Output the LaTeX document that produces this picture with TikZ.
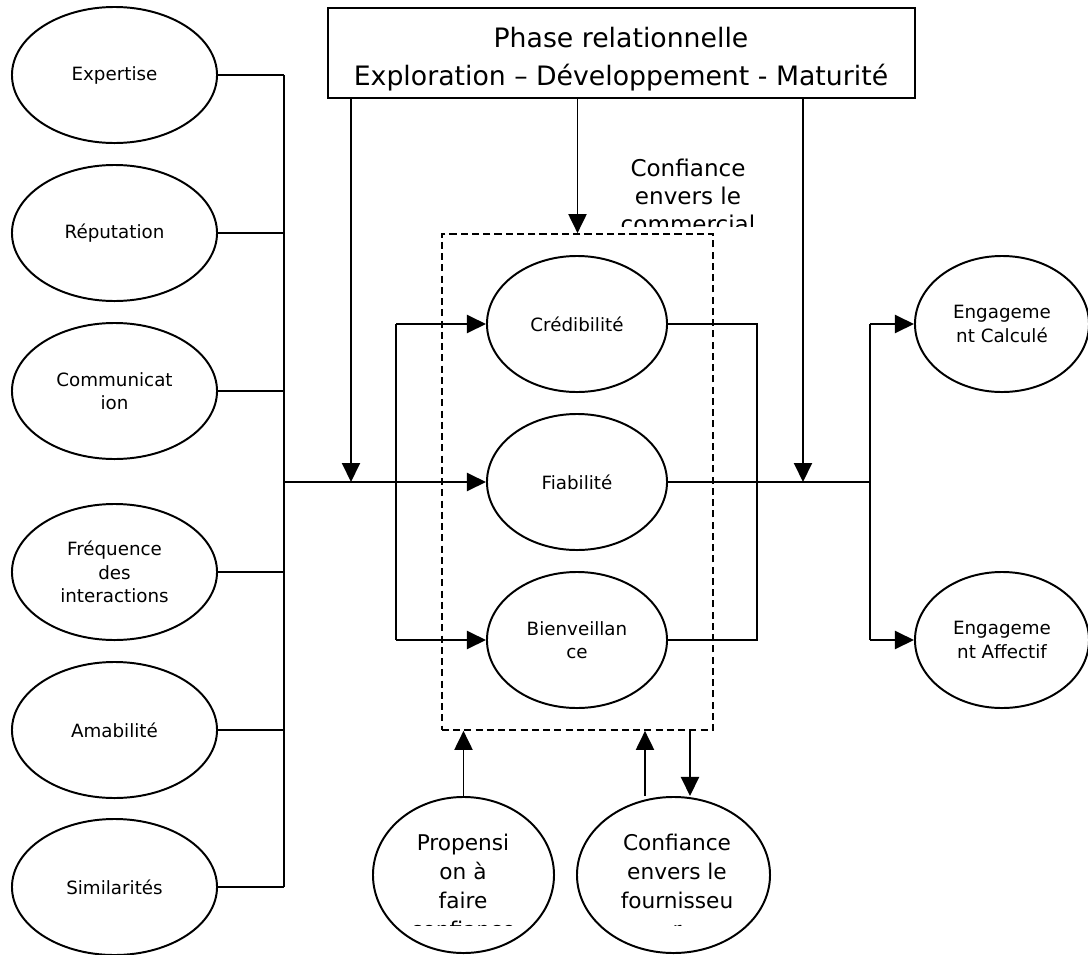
\documentclass[tikz,border=0pt]{standalone}
\usepackage{fontspec}
\setmainfont{DejaVu Sans}
\usetikzlibrary{shapes.geometric,arrows.meta}

\begin{document}
\begin{tikzpicture}[x=0.025cm,y=-0.025cm,line width=1.4pt,
  arr/.style={-{Triangle[length=0.475cm,width=0.45cm]}},
  oval/.style={draw,ellipse,inner sep=0pt,align=center,font=\fontsize{13}{16.5}\selectfont},
  side/.style={oval,minimum width=5.125cm,minimum height=3.4cm},
  mid/.style={oval,minimum width=4.5cm,minimum height=3.4cm},
  eng/.style={oval,minimum width=4.35cm,minimum height=3.4cm}]
\useasboundingbox (0,0) rectangle (1088,955);

\node (Phase) at (621.5,53) [draw,minimum width=14.675cm,minimum height=2.25cm] {};
\node (PhaseLbl) at (621,59) [align=center,font=\fontsize{19}{27}\selectfont] {Phase relationnelle\\Exploration – Développement - Maturité};

\node (Exp) at (114.5,75) [side] {Expertise};
\node (Rep) at (114.5,233) [side] {Réputation};
\node (Com) at (114.5,391) [side] {Communicat\\ion};
\node (Freq) at (114.5,572) [side] {Fréquence\\des\\interactions};
\node (Ama) at (114.5,730) [side] {Amabilité};
\node (Sim) at (114.5,887) [side] {Similarités};

\node (Trust) at (577.5,482) [draw,line width=1.1pt,dash pattern=on 5pt off 3pt,minimum width=6.775cm,minimum height=12.4cm,inner sep=0pt] {};

\node (Cred) at (577,324) [mid] {Crédibilité};
\node (Fia) at (577,482) [mid] {Fiabilité};
\node (Bien) at (577,640) [mid] {Bienveillan\\ce};

\node (Ecal) at (1002,324) [eng] {Engageme\\nt Calculé};
\node (Eaff) at (1002,640) [eng] {Engageme\\nt Affectif};

\node (Prop) at (463.5,875) [draw,ellipse,minimum width=4.525cm,minimum height=3.9cm,inner sep=0pt] {};
\node (Four) at (673.5,875) [draw,ellipse,minimum width=4.825cm,minimum height=3.9cm,inner sep=0pt] {};

% textes coupes
\begin{scope}
\clip (600,140) rectangle (800,226);
\node (ComLbl) at (688,196) [align=center,font=\fontsize{16.4}{20}\selectfont] {Confiance\\envers le\\commercial};
\end{scope}
\begin{scope}
\clip (370,800) rectangle (780,925);
\node (PropLbl) at (463,885.5) [align=center,font=\fontsize{15.4}{20.6}\selectfont] {Propensi\\on à\\faire\\confiance};
\node (FourLbl) at (677,885.5) [align=center,font=\fontsize{15.4}{20.6}\selectfont] {Confiance\\envers le\\fournisseu\\r};
\end{scope}

\coordinate (BusT) at (284,75);
\foreach \n in {Exp,Rep,Com,Freq,Ama,Sim}
  \draw (\n.east) -- (\n.east -| BusT);
\draw (Exp.east -| BusT) -- (Sim.east -| BusT);

\coordinate (InL) at (284,482);
\draw[arr] (InL) -- (Fia.west);

\coordinate (DownL) at (351,482);
\coordinate (DownR) at (803,482);
\draw[arr] (Phase.south -| DownL) -- (DownL);
\draw[arr] (Phase.south -| Trust.north) -- (Trust.north);
\draw[arr] (Phase.south -| DownR) -- (DownR);

\coordinate (SplitL) at (396,482);
\draw[arr] (SplitL |- Cred.west) -- (Cred.west);
\draw (SplitL |- Cred.west) -- (SplitL |- Bien.west);
\draw[arr] (SplitL |- Bien.west) -- (Bien.west);

\coordinate (JoinR) at (757,482);
\draw (Cred.east) -- (Cred.east -| JoinR) -- (Bien.east -| JoinR) -- (Bien.east);

\coordinate (SplitR) at (870,482);
\draw (Fia.east) -- (SplitR);
\draw[arr] (SplitR |- Ecal.west) -- (Ecal.west);
\draw (SplitR |- Ecal.west) -- (SplitR |- Eaff.west);
\draw[arr] (SplitR |- Eaff.west) -- (Eaff.west);

\draw[arr] (Prop.north) -- (Prop.north |- Trust.south);
\draw[arr] ([xshift=-0.7125cm]Four.north) -- ([xshift=-0.7125cm]Four.north |- Trust.south);
\draw[arr] ([xshift=0.4125cm]Four.north |- Trust.south) -- ([xshift=0.4125cm]Four.north);

\end{tikzpicture}
\end{document}
